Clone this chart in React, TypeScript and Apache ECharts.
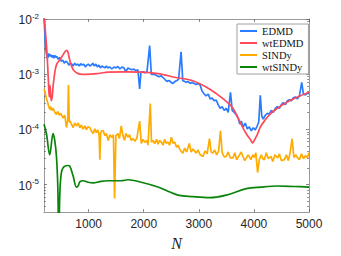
import React, { useEffect, useRef } from "react";
import * as echarts from "echarts";

// ---- data (N, error value) ----
const edmdN = [
  190, 206, 221, 239, 257, 276, 294, 312, 330, 348,
  367, 385, 403, 421, 449, 476, 503, 530, 558, 585,
  612, 640, 667, 694, 722, 749, 776, 803, 831, 858,
  885, 913, 940, 967, 995, 1022, 1049, 1076, 1104, 1131,
  1158, 1186, 1213, 1240, 1268, 1295, 1322, 1349, 1386, 1422,
  1459, 1495, 1531, 1568, 1604, 1641, 1677, 1713, 1750, 1786,
  1823, 1859, 1895, 1926, 1950, 1986, 2023, 2059, 2108, 2138,
  2168, 2205, 2241, 2278, 2314, 2350, 2387, 2423, 2460, 2496,
  2532, 2569, 2605, 2633, 2678, 2709, 2742, 2769, 2805, 2842,
  2878, 2915, 2951, 2987, 3024, 3060, 3097, 3133, 3170, 3206,
  3242, 3279, 3315, 3351, 3388, 3424, 3461, 3497, 3533, 3575,
  3606, 3643, 3679, 3715, 3743, 3770, 3806, 3843, 3879, 3916,
  3952, 3988, 4025, 4061, 4088, 4116, 4143, 4170, 4207, 4243,
  4280, 4316, 4352, 4389, 4425, 4462, 4498, 4534, 4571, 4607,
  4644, 4680, 4717, 4753, 4789, 4826, 4868, 4899, 4935, 4972,
  5000,
];
const edmdVal = [
  1.1e-2, 5.3e-3, 2.9e-3, 2.19e-3, 1.94e-3, 2.37e-3, 2.1e-3, 2.27e-3, 2.02e-3, 2.19e-3,
  1.94e-3, 2.19e-3, 2.02e-3, 2.1e-3, 1.86e-3, 2.02e-3, 1.72e-3, 1.79e-3, 1.58e-3, 1.72e-3,
  1.65e-3, 1.46e-3, 1.58e-3, 1.52e-3, 1.41e-3, 1.58e-3, 1.46e-3, 1.52e-3, 1.41e-3, 1.55e-3,
  1.46e-3, 1.52e-3, 1.35e-3, 1.46e-3, 1.52e-3, 1.41e-3, 1.46e-3, 1.58e-3, 1.41e-3, 1.52e-3,
  1.35e-3, 1.46e-3, 1.3e-3, 1.41e-3, 1.35e-3, 1.3e-3, 1.41e-3, 1.3e-3, 1.35e-3, 1.24e-3,
  1.35e-3, 1.3e-3, 1.38e-3, 1.24e-3, 1.35e-3, 1.3e-3, 1.1e-3, 1.3e-3, 1.24e-3, 1.2e-3,
  1.24e-3, 1.15e-3, 1.2e-3, 5.4e-4, 1.1e-3, 1.1e-3, 1.06e-3, 1.1e-3, 3.31e-3, 9.9e-4,
  1.0e-3, 9.8e-4, 9.4e-4, 9.0e-4, 9.4e-4, 8.7e-4, 8.0e-4, 7.4e-4, 7.7e-4, 7.1e-4,
  6.8e-4, 7.4e-4, 7.7e-4, 8.1e-4, 2.54e-3, 7.6e-4, 7.4e-4, 7.1e-4, 7.4e-4, 6.8e-4,
  7.1e-4, 6.8e-4, 6.5e-4, 6.8e-4, 6.3e-4, 4.93e-4, 4.37e-4, 4.03e-4, 4.37e-4, 3.57e-4,
  3.7e-4, 3.3e-4, 3.4e-4, 2.8e-4, 2.39e-4, 2.58e-4, 2.2e-4, 2.39e-4, 2.03e-4, 4.7e-4,
  2.2e-4, 2.03e-4, 1.85e-4, 1.6e-4, 1.25e-4, 1.41e-4, 1.11e-4, 1.3e-4, 1.02e-4, 1.11e-4,
  9.4e-5, 1.07e-4, 9.8e-5, 1.16e-4, 1.36e-4, 4.14e-4, 1.73e-4, 1.53e-4, 1.8e-4, 1.95e-4,
  1.9e-4, 2.2e-4, 2.03e-4, 2.39e-4, 2.59e-4, 2.39e-4, 2.8e-4, 3.04e-4, 2.8e-4, 3.3e-4,
  3.43e-4, 3.3e-4, 3.72e-4, 3.87e-4, 3.57e-4, 4.03e-4, 7.1e-4, 4.37e-4, 4.2e-4, 4.55e-4,
  4.37e-4,
];

const wtedmdN = [
  190, 239, 267, 285, 299, 321, 339, 357, 385, 421,
  476, 530, 598, 621, 658, 718, 780, 840, 962, 1204,
  1349, 1659, 1956, 2259, 2587, 2891, 3193, 3437, 3619, 3739,
  3861, 3947, 3976, 4016, 4067, 4116, 4189, 4311, 4431, 4613,
  4795, 5000,
];
const wtedmdVal = [
  1.2e-2, 2.9e-3, 8.7e-4, 3.87e-4, 6.3e-4, 3.3e-4, 3.87e-4, 6.3e-4, 1.06e-3, 1.52e-3,
  1.81e-3, 2.19e-3, 2.71e-3, 2.57e-3, 1.79e-3, 1.21e-3, 1.06e-3, 1.0e-3, 9.9e-4, 1.04e-3,
  1.09e-3, 1.1e-3, 1.09e-3, 1.02e-3, 8.7e-4, 7.6e-4, 5.4e-4, 3.61e-4, 2.42e-4, 1.41e-4,
  8.3e-5, 6.3e-5, 5.66e-5, 6.6e-5, 8.3e-5, 1.1e-4, 1.41e-4, 1.97e-4, 2.42e-4, 3.16e-4,
  3.87e-4, 4.7e-4,
];

const sindyN = [
  190, 212, 234, 257, 276, 294, 312, 330, 354, 385,
  416, 439, 467, 494, 536, 567, 598, 621, 634, 649,
  667, 694, 718, 749, 780, 812, 840, 867, 900, 931,
  958, 985, 1022, 1049, 1082, 1113, 1140, 1167, 1191, 1204,
  1218, 1240, 1264, 1295, 1322, 1355, 1386, 1422, 1450, 1471,
  1495, 1531, 1559, 1592, 1622, 1653, 1677, 1713, 1741, 1774,
  1804, 1841, 1877, 1926, 1956, 1986, 2023, 2059, 2077, 2119,
  2141, 2168, 2199, 2232, 2259, 2287, 2319, 2350, 2378, 2405,
  2441, 2469, 2502, 2532, 2563, 2596, 2623, 2660, 2709, 2742,
  2778, 2829, 2860, 2896, 2951, 2987, 3024, 3073, 3115, 3151,
  3193, 3224, 3255, 3288, 3324, 3360, 3393, 3424, 3461, 3497,
  3533, 3570, 3619, 3652, 3688, 3739, 3770, 3801, 3834, 3861,
  3897, 3946, 3979, 4007, 4034, 4067, 4098, 4134, 4161, 4189,
  4225, 4261, 4311, 4343, 4380, 4431, 4462, 4498, 4553, 4589,
  4626, 4657, 4693, 4726, 4762, 4795, 4826, 4862, 4899, 4935,
  4972, 5000,
];
const sindyVal = [
  5.4e-4, 4.55e-4, 3.61e-4, 3.04e-4, 2.59e-4, 2.29e-4, 2.59e-4, 2.2e-4, 2.42e-4, 2.03e-4,
  1.87e-4, 2.11e-4, 1.8e-4, 1.95e-4, 1.61e-4, 1.8e-4, 1.08e-4, 1.47e-4, 6.35e-4, 1.36e-4,
  1.4e-4, 1.2e-4, 1.08e-4, 1.3e-4, 1.16e-4, 1.3e-4, 1.07e-4, 1.2e-4, 1.01e-4, 1.16e-4,
  9.8e-5, 1.11e-4, 1.08e-4, 9.4e-5, 8.4e-5, 1.02e-4, 8.7e-5, 9.8e-5, 7.7e-5, 2.82e-5,
  8.7e-5, 9.4e-5, 9.4e-5, 7.7e-5, 8.4e-5, 6.3e-5, 8.0e-5, 7.1e-5, 8.0e-5, 5.6e-6,
  7.7e-5, 8.4e-5, 6.8e-5, 1.16e-4, 7.7e-5, 6.3e-5, 8.4e-5, 7.2e-5, 8.0e-5, 6.3e-5,
  6.8e-5, 6.07e-5, 7.1e-5, 1.41e-4, 5.53e-5, 6.58e-5, 5.82e-5, 6.3e-5, 5.16e-5, 2.95e-4,
  5.82e-5, 6.3e-5, 5.53e-5, 6.58e-5, 5.37e-5, 6.3e-5, 5.89e-5, 5.16e-5, 6.58e-5, 5.6e-5,
  5.89e-5, 5.16e-5, 7.2e-5, 5.6e-5, 5.89e-5, 4.76e-5, 5.16e-5, 4.22e-5, 3.7e-5, 4.57e-5,
  3.89e-5, 5.53e-5, 3.89e-5, 4.4e-5, 3.7e-5, 4.22e-5, 3.45e-5, 3.22e-5, 4.06e-5, 3.59e-5,
  6.76e-5, 3.89e-5, 3.7e-5, 4.22e-5, 3.45e-5, 4.06e-5, 9.4e-5, 3.78e-5, 3.18e-5, 3.22e-5,
  3.89e-5, 3.05e-5, 3.03e-5, 3.78e-5, 2.82e-5, 3.45e-5, 3.89e-5, 3.22e-5, 2.71e-5, 3.03e-5,
  3.45e-5, 2.82e-5, 3.45e-5, 3.09e-5, 3.78e-5, 1.65e-5, 2.82e-5, 3.45e-5, 2.94e-5, 2.82e-5,
  3.78e-5, 2.94e-5, 3.22e-5, 2.6e-5, 3.45e-5, 3.03e-5, 3.59e-5, 2.71e-5, 2.82e-5, 3.45e-5,
  2.71e-5, 3.78e-5, 6.76e-5, 3.09e-5, 3.45e-5, 3.03e-5, 2.82e-5, 3.59e-5, 2.94e-5, 3.32e-5,
  3.09e-5, 3.78e-5,
];

const wtsindyN = [
  190, 234, 294, 354, 385, 416, 439, 458, 481, 507,
  540, 567, 621, 658, 718, 780, 812, 840, 900, 991,
  1082, 1204, 1349, 1592, 1713, 1956, 2259, 2441, 2623, 2891,
  3193, 3497, 3861, 4129, 4431, 4735, 5000,
];
const wtsindyVal = [
  1.24e-4, 8.4e-5, 3.45e-5, 8.4e-5, 6.3e-5, 3.22e-5, 1.03e-5, 1.5e-6, 8.4e-6, 1.67e-5,
  2.04e-5, 2.15e-5, 2.21e-5, 2.15e-5, 1.44e-5, 9.0e-6, 9.5e-6, 1.12e-5, 1.17e-5, 1.1e-5,
  1.07e-5, 1.13e-5, 1.17e-5, 1.17e-5, 1.22e-5, 1.1e-5, 9.0e-6, 7.55e-6, 6.43e-6, 6.03e-6,
  5.78e-6, 6.43e-6, 8.4e-6, 9.0e-6, 9.4e-6, 9.2e-6, 9.0e-6,
];

const seriesNames = ["EDMD", "wtEDMD", "SINDy", "wtSINDy"];
const seriesColors = ["#2b7bff", "#ff4858", "#ffab00", "#0a840a"];
const xTickValues = [1000, 2000, 3000, 4000, 5000];
const yDecadeExponents = [-5, -4, -3, -2];
const xMin = 190;
const xMax = 5000;
const yMinExp = -5.5;
const yMaxExp = -2;

export default function App() {
  const ref = useRef<HTMLDivElement>(null);

  useEffect(() => {
    if (!ref.current) return;
    const chart = echarts.init(ref.current, null, { renderer: "svg" });

    const pairs = (xs: number[], vs: number[]) =>
      xs.map((x, i) => [x, Math.log10(vs[i])]);

    const minorExp: number[] = [];
    for (let e = -6; e <= -3; e++) {
      for (let k = 2; k <= 9; k++) {
        const v = e + Math.log10(k);
        if (v > yMinExp && v < yMaxExp) minorExp.push(v);
      }
    }

    const axisColor = "#9a9a9a";
    const tickColor = "#555";
    const labelColor = "#262626";

    const yBase = (position: "left" | "right", values: number[], len: number, showLine: boolean, showLabel: boolean) => ({
      type: "value",
      position,
      min: yMinExp,
      max: yMaxExp,
      axisLine: { show: showLine, onZero: false, lineStyle: { color: axisColor, width: 1 } },
      axisTick: { show: true, inside: true, length: len, customValues: values, lineStyle: { color: tickColor, width: 0.7 } },
      axisLabel: showLabel
        ? {
            show: true,
            customValues: yDecadeExponents,
            margin: 5,
            formatter: (v: number) => `{b|10}{s|${Math.round(v)}}`,
            rich: {
              b: { fontSize: 12, fontFamily: "Liberation Sans", color: labelColor, lineHeight: 14, verticalAlign: "bottom" },
              s: { fontSize: 8, fontFamily: "Liberation Sans", color: labelColor, lineHeight: 9, verticalAlign: "top" },
            },
          }
        : { show: false },
      splitLine: { show: false },
    });

    const xBase = (position: "bottom" | "top", showLabel: boolean) => ({
      type: "value",
      position,
      min: xMin,
      max: xMax,
      axisLine: { show: true, onZero: false, lineStyle: { color: axisColor, width: 1 } },
      axisTick: { show: true, inside: true, length: 3, customValues: xTickValues, lineStyle: { color: tickColor, width: 0.7 } },
      axisLabel: showLabel
        ? {
            show: true,
            customValues: xTickValues,
            margin: 6,
            fontSize: 12,
            fontFamily: "Liberation Sans",
            color: labelColor,
            formatter: (v: number) => String(Math.round(v)),
          }
        : { show: false },
      splitLine: { show: false },
    });

    const xs = [edmdN, wtedmdN, sindyN, wtsindyN];
    const vs = [edmdVal, wtedmdVal, sindyVal, wtsindyVal];

    chart.setOption({
      animation: false,
      grid: { left: 44, top: 19, right: 32, bottom: 37, containLabel: false },
      xAxis: [
        {
          ...xBase("bottom", true),
          name: "N",
          nameLocation: "middle",
          nameGap: 18,
          nameTextStyle: { fontSize: 16, fontStyle: "italic", fontFamily: "Liberation Serif", color: labelColor },
        },
        xBase("top", false),
      ],
      yAxis: [
        yBase("left", yDecadeExponents, 3, true, true),
        yBase("left", minorExp, 1.8, false, false),
        yBase("right", yDecadeExponents, 3, true, false),
        yBase("right", minorExp, 1.8, false, false),
      ],
      legend: {
        show: true,
        orient: "vertical",
        left: 237,
        top: 24,
        data: seriesNames,
        icon: "rect",
        itemWidth: 17,
        itemHeight: 2,
        itemGap: 0,
        padding: [1, 5, 1, 3],
        backgroundColor: "#fff",
        borderColor: "#a0a0a0",
        borderWidth: 1,
        textStyle: { fontFamily: "Liberation Serif", fontSize: 10.5, color: "#111", lineHeight: 12 },
      },
      series: seriesNames.map((name, i) => ({
        name,
        type: "line",
        xAxisIndex: 0,
        yAxisIndex: 0,
        data: pairs(xs[i], vs[i]),
        showSymbol: false,
        symbol: "none",
        smooth: i === 1 || i === 3 ? 0.35 : false,
        clip: true,
        color: seriesColors[i],
        lineStyle: { color: seriesColors[i], width: 1.7 },
      })),
    });

    return () => chart.dispose();
  }, []);

  return (
    <div
      ref={ref}
      style={{ position: "absolute", left: 0, top: 0, width: 341, height: 256, background: "#fff" }}
    />
  );
}
